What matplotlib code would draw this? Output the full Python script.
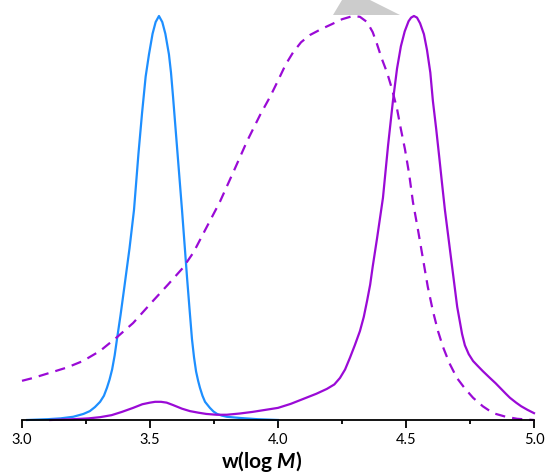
import matplotlib
matplotlib.use("Agg")
import matplotlib.pyplot as plt
from matplotlib.patches import Polygon
from matplotlib.ticker import MultipleLocator

plt.rcParams['font.family'] = ['Lato', 'DejaVu Sans']
plt.rcParams['mathtext.fontset'] = 'custom'
plt.rcParams['mathtext.bfit'] = 'Lato:italic:bold'
plt.rcParams['mathtext.it'] = 'Lato:italic:bold'

# courbe bleue (pic étroit vers 3.53)
blue_x = [3.02, 3.06, 3.10, 3.15, 3.20, 3.24, 3.265, 3.285, 3.305, 3.32, 3.332, 3.342,
          3.352, 3.362, 3.371, 3.385, 3.40, 3.42, 3.4375, 3.455, 3.469, 3.483, 3.496,
          3.51, 3.522, 3.535, 3.548, 3.56, 3.574, 3.582, 3.590, 3.60, 3.61, 3.625,
          3.645, 3.655, 3.664, 3.672, 3.68, 3.688, 3.695, 3.705, 3.715, 3.734, 3.748,
          3.762, 3.78, 3.80, 3.852, 3.92, 4.0]
blue_y = [0.0, 0.001, 0.002, 0.004, 0.008, 0.015, 0.022, 0.032, 0.045, 0.06, 0.08, 0.1,
          0.125, 0.16, 0.2, 0.26, 0.33, 0.425, 0.52, 0.66, 0.76, 0.85, 0.905,
          0.956, 0.985, 1.0, 0.985, 0.956, 0.905, 0.86, 0.80, 0.72, 0.64, 0.52,
          0.35, 0.27, 0.2, 0.155, 0.12, 0.097, 0.08, 0.06, 0.045, 0.03, 0.021,
          0.015, 0.011, 0.008, 0.005, 0.002, 0.0]

# courbe violette pleine (pic vers 4.53 + petite bosse vers 3.54)
solid_x = [3.11, 3.20, 3.26, 3.305, 3.35, 3.39, 3.434, 3.47, 3.50, 3.52, 3.543, 3.565,
           3.59, 3.625, 3.656, 3.69, 3.72, 3.76, 3.80, 3.85, 3.90, 3.95, 4.0, 4.05,
           4.098, 4.15, 4.191, 4.22, 4.242, 4.262, 4.281, 4.30, 4.32, 4.335, 4.348,
           4.36, 4.37, 4.387, 4.41, 4.43, 4.449, 4.465, 4.48, 4.495, 4.51, 4.52, 4.531,
           4.543, 4.555, 4.57, 4.582, 4.595, 4.605, 4.618, 4.63, 4.64, 4.652, 4.668,
           4.684, 4.70, 4.719, 4.73, 4.745, 4.762, 4.78, 4.80, 4.828, 4.85, 4.87,
           4.89, 4.906, 4.93, 4.95, 4.975, 5.0]
solid_y = [0.0, 0.002, 0.004, 0.007, 0.012, 0.02, 0.03, 0.039, 0.043, 0.045, 0.045, 0.043,
           0.037, 0.028, 0.022, 0.018, 0.015, 0.013, 0.013, 0.016, 0.02, 0.025, 0.03, 0.04,
           0.052, 0.065, 0.077, 0.088, 0.104, 0.125, 0.154, 0.185, 0.22, 0.255, 0.295,
           0.335, 0.38, 0.45, 0.55, 0.68, 0.79, 0.87, 0.925, 0.962, 0.987, 0.996, 1.0,
           0.996, 0.982, 0.955, 0.916, 0.86, 0.79, 0.72, 0.65, 0.59, 0.52, 0.44,
           0.36, 0.28, 0.213, 0.185, 0.163, 0.146, 0.134, 0.121, 0.104, 0.091, 0.078,
           0.065, 0.055, 0.043, 0.034, 0.025, 0.017]

# courbe violette en pointillés (large)
dash_x = [3.0, 3.043, 3.11, 3.176, 3.238, 3.305, 3.371, 3.434, 3.512, 3.57, 3.629, 3.67,
          3.707, 3.773, 3.83, 3.879, 3.93, 3.969, 4.0, 4.03, 4.059, 4.09, 4.125, 4.17,
          4.211, 4.25, 4.293, 4.32, 4.348, 4.37, 4.387, 4.405, 4.426, 4.445, 4.465,
          4.48, 4.496, 4.512, 4.527, 4.547, 4.566, 4.585, 4.605, 4.625, 4.645, 4.67,
          4.699, 4.73, 4.762, 4.80, 4.84, 4.89, 4.934, 5.0]
dash_y = [0.097, 0.104, 0.117, 0.13, 0.146, 0.171, 0.205, 0.24, 0.295, 0.335, 0.377, 0.415,
          0.46, 0.54, 0.62, 0.69, 0.755, 0.80, 0.84, 0.88, 0.91, 0.935, 0.953, 0.968,
          0.98, 0.992, 1.0, 0.998, 0.985, 0.96, 0.93, 0.895, 0.86, 0.82, 0.77,
          0.72, 0.67, 0.61, 0.54, 0.47, 0.40, 0.33, 0.27, 0.22, 0.18, 0.14,
          0.104, 0.078, 0.055, 0.034, 0.017, 0.008, 0.003, 0.0]

blue = '#1E8FFF'
purple = '#9A0AD6'

fig = plt.figure(figsize=(5.47, 4.73), dpi=100)
ax = fig.add_axes([22 / 547, 1 - 420 / 473, 512 / 547, (420 - 16) / 473])

ax.plot(blue_x, blue_y, color=blue, lw=1.6, clip_on=False)
ax.plot(solid_x, solid_y, color=purple, lw=1.6, clip_on=False)
ax.plot(dash_x, dash_y, color=purple, lw=1.6, ls='--', dashes=(4.6, 3.2), clip_on=False)

ax.set_xlim(3.0, 5.0)
ax.set_ylim(0, 1.0)
ax.xaxis.set_minor_locator(MultipleLocator(0.25))
ax.set_xticks([3.0, 3.5, 4.0, 4.5, 5.0])
ax.set_xticklabels(['3.0', '3.5', '4.0', '4.5', '5.0'])
ax.tick_params(axis='x', which='major', direction='out', length=6, width=1.3,
               labelsize=10.5, pad=3)
ax.tick_params(axis='x', which='minor', direction='out', length=3, width=1.3)
ax.set_yticks([])
for s in ['left', 'right', 'top']:
    ax.spines[s].set_visible(False)
ax.spines['bottom'].set_linewidth(1.3)

ax.set_xlabel(r'w(log $\mathbfit{M}$)', fontsize=15, fontweight='bold')
ax.xaxis.set_label_coords(0.467, -0.072)

# petite forme grise tronquée en haut
tri = Polygon([(342 / 547, 1.0), (370 / 547, 1.0), (400 / 547, 1 - 15 / 473),
               (333 / 547, 1 - 15 / 473)], closed=True, transform=fig.transFigure,
              facecolor='#CCCCCC', edgecolor='none', zorder=0)
fig.add_artist(tri)

fig.savefig('out.png', dpi=100)
